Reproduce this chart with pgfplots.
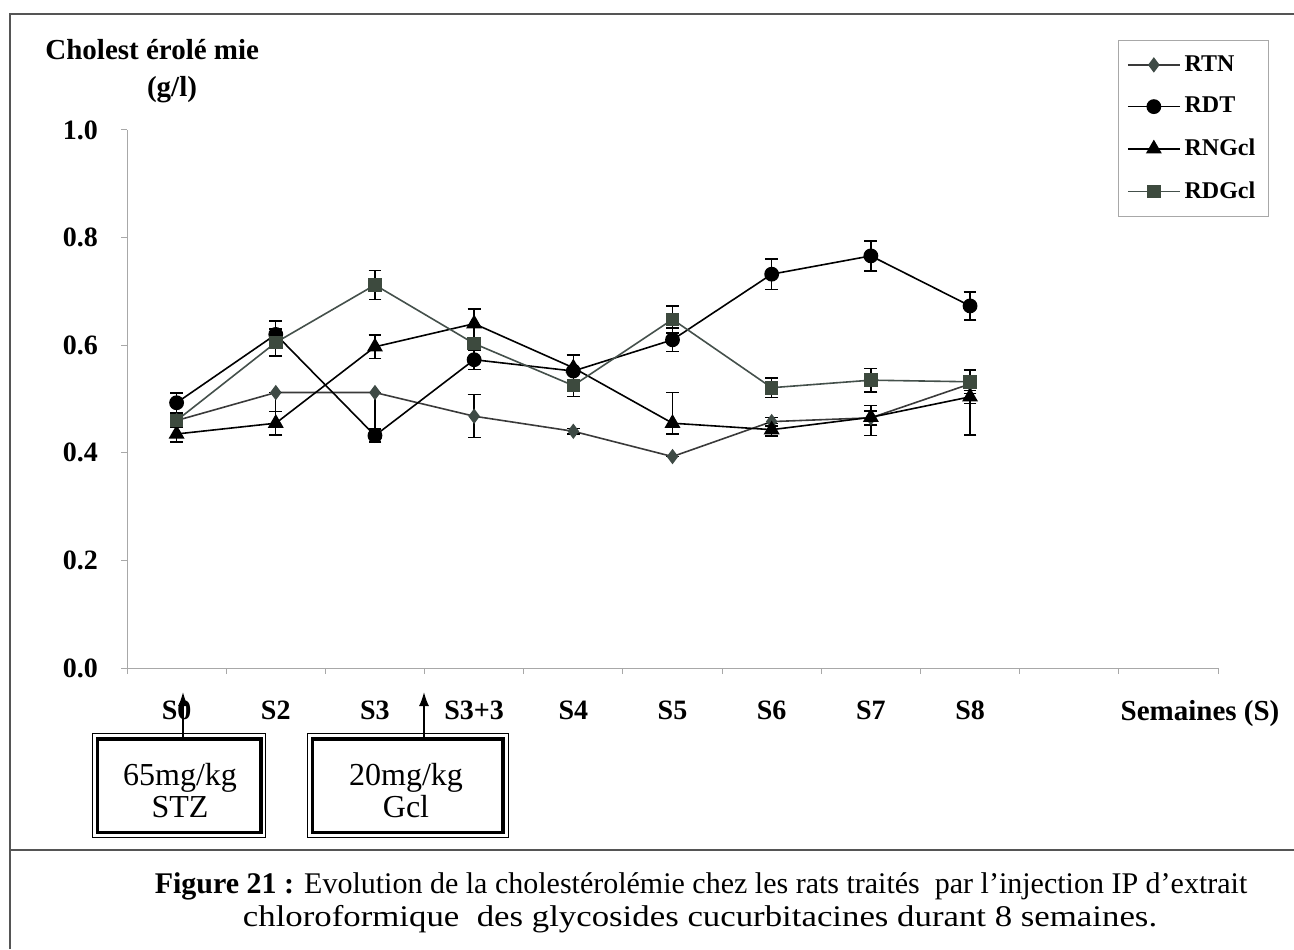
\documentclass[border=0pt]{standalone}
\usepackage{fontspec}
\setmainfont{Liberation Serif}
\usepackage{pgfplots}
\pgfplotsset{compat=1.18}
\usetikzlibrary{arrows.meta}
\definecolor{rtnfill}{HTML}{3E4A45}
\definecolor{rtnline}{HTML}{3A3A3A}
\definecolor{rdgfill}{HTML}{3D4A3E}
\definecolor{rdgline}{HTML}{44504B}
\definecolor{frame}{HTML}{555555}
\definecolor{axisgray}{HTML}{A8A8A8}
\begin{document}
\begin{tikzpicture}[x=0.5pt,y=0.5pt]
\useasboundingbox (0,0) rectangle (1294,949);
% frame
\draw[frame, line width=0.8pt] (10,0) -- (10,935) -- (1294,935);
\draw[frame, line width=0.8pt] (10,99) -- (1294,99);
\begin{axis}[
  at={(63.5pt,140.5pt)}, anchor=south west,
  scale only axis, width=545.5pt, height=269pt,
  xmin=-0.5, xmax=10.5, ymin=0, ymax=1.0,
  axis x line=bottom, axis y line=left,
  axis line style={-, axisgray, line width=0.5pt},
  tick style={axisgray, line width=0.5pt},
  tick align=outside,
  major tick length=3pt, minor tick length=3pt,
  xtick={0,...,8},
  xticklabels={S0,S2,S3,S3+3,S4,S5,S6,S7,S8},
  major x tick style={draw=none},
  minor xtick={-0.5,0.5,...,10.5},
  ytick={0,0.2,0.4,0.6,0.8,1.0},
  yticklabels={0.0,0.2,0.4,0.6,0.8,1.0},
  tick label style={font=\bfseries\fontsize{14}{16}\selectfont, black},
  xticklabel style={yshift=-10pt},
  yticklabel style={xshift=-8pt},
  clip=false,
  legend style={at={(0.908,1.167)}, anchor=north west, draw=axisgray,
    font=\bfseries\fontsize{12}{14}\selectfont, row sep=7.5pt, inner xsep=4.5pt, inner ysep=5.5pt,
    cells={anchor=west}},
  legend image code/.code={\draw[mark repeat=2,mark phase=2] plot coordinates {(0pt,0pt) (13pt,0pt) (26pt,0pt)};},
  error bars/y dir=both, error bars/y explicit,
  error bars/error bar style={black, line width=0.7pt},
  error bars/error mark options={rotate=90, mark size=3.2pt, black, line width=0.7pt},
]
% RTN
\addplot[rtnline, line width=0.8pt, mark=diamond*, mark size=3.2pt, mark options={fill=rtnfill, draw=rtnfill}]
coordinates {
(0,0.460) +- (0,0.010)
(1,0.512) += (0,0) -= (0,0.080)
(2,0.512) += (0,0) -= (0,0.080)
(3,0.468) +- (0,0.040)
(4,0.440) +- (0,0.005)
(5,0.393) +- (0,0.0)
(6,0.458) +- (0,0.008)
(7,0.465) +- (0,0.013)
(8,0.528) += (0,0.0) -= (0,0.095)
};
\addlegendentry{RTN}
% RDT
\addplot[black, line width=0.8pt, mark=*, mark size=3.3pt, mark options={fill=black}]
coordinates {
(0,0.493) +- (0,0.018)
(1,0.620) +- (0,0.025)
(2,0.432) +- (0,0.012)
(3,0.573) +- (0,0.018)
(4,0.552) +- (0,0.030)
(5,0.610) +- (0,0.022)
(6,0.732) +- (0,0.028)
(7,0.766) +- (0,0.028)
(8,0.673) +- (0,0.026)
};
\addlegendentry{RDT}
% RNGcl
\addplot[black, line width=0.8pt, mark=triangle*, mark size=3.8pt, mark options={fill=black}]
coordinates {
(0,0.435) +- (0,0.015)
(1,0.455) +- (0,0.022)
(2,0.597) +- (0,0.022)
(3,0.640) +- (0,0.027)
(4,0.558) +- (0,0.025)
(5,0.455) += (0,0.057) -= (0,0.020)
(6,0.443) +- (0,0.012)
(7,0.466) += (0,0.022) -= (0,0.034)
(8,0.504) +- (0,0.012)
};
\addlegendentry{RNGcl}
% RDGcl
\addplot[rdgline, line width=0.8pt, mark=square*, mark size=3.0pt, mark options={fill=rdgfill, draw=rdgfill}]
coordinates {
(0,0.460) +- (0,0.012)
(1,0.605) +- (0,0.025)
(2,0.712) +- (0,0.027)
(3,0.603) +- (0,0.010)
(4,0.525) += (0,0.030) -= (0,0.020)
(5,0.648) +- (0,0.025)
(6,0.521) +- (0,0.018)
(7,0.535) +- (0,0.022)
(8,0.532) +- (0,0.022)
};
\addlegendentry{RDGcl}
\end{axis}
% y-axis title
\node[anchor=west, font=\bfseries\fontsize{14.5}{16}\selectfont, inner sep=0pt] at (45,899) {Cholest érolé mie};
\node[font=\bfseries\fontsize{14.5}{16}\selectfont, inner sep=0pt] at (172,859) {(g/l)};
\node[font=\bfseries\fontsize{14.5}{16}\selectfont, inner sep=0pt] at (1200,235) {Semaines (S)};
% boxes
\draw[black, line width=0.5pt] (92,112) rectangle (265,216);
\draw[black, line width=1.6pt] (97.5,116.5) rectangle (261,210);
\draw[black, line width=0.5pt] (307,112) rectangle (508,216);
\draw[black, line width=1.6pt] (312.5,116.5) rectangle (503,210);
\node[align=center, font=\fontsize{16}{16}\selectfont, inner sep=0pt] at (180,158) {65mg/kg\\STZ};
\node[align=center, font=\fontsize{16}{16}\selectfont, inner sep=0pt] at (406,158) {20mg/kg\\Gcl};
% arrows
\draw[black, line width=0.8pt, -{Latex[length=7pt,width=5pt]}] (183,210) -- (183,257);
\draw[black, line width=0.8pt, -{Latex[length=7pt,width=5pt]}] (424,210) -- (424,257);
% caption
\node[font=\fontsize{15}{16.5}\selectfont, inner sep=0pt, anchor=base] at (701,56) {\textbf{Figure 21 :} Evolution de la cholestérolémie chez les rats traités\ \ par l’injection IP d’extrait};
\node[font=\fontsize{15}{16.5}\selectfont, inner sep=0pt, anchor=base] at (700,23) {\scalebox{1.16}[1]{chloroformique\ \ des glycosides cucurbitacines durant 8 semaines.}};
\end{tikzpicture}
\end{document}
